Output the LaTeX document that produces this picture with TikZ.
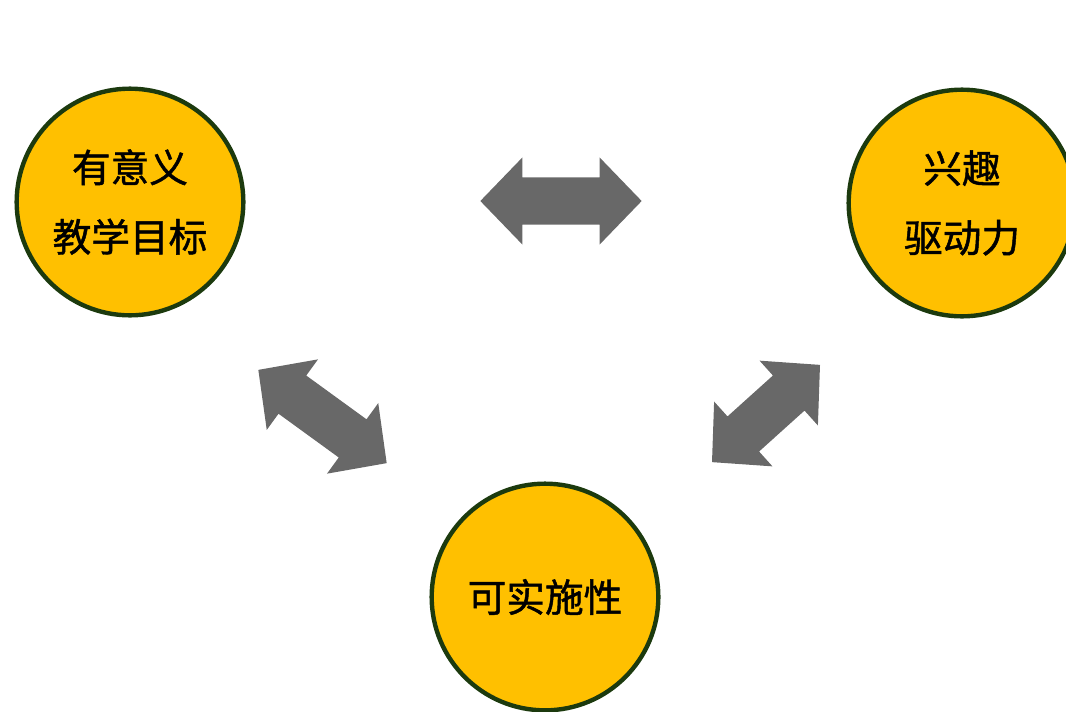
\documentclass[tikz,border=0pt]{standalone}
\usepackage{fontspec}
\newfontfamily\cjk[FakeBold=1.2]{Noto Sans CJK SC}
\usetikzlibrary{shapes.arrows}
\definecolor{discfill}{RGB}{255,192,0}
\definecolor{discrim}{RGB}{28,58,14}
\definecolor{arrgray}{RGB}{104,104,104}

\begin{document}
\begin{tikzpicture}[%
    x=0.75pt,
    y=-0.75pt,
    disc/.style={
      circle,
      draw=discrim,
      line width=3.3pt,
      fill=discfill,
      minimum size=170pt,
      inner sep=0pt,
      align=center,
      font=\cjk\fontsize{29}{52}\selectfont
    },
    link/.style={
      double arrow,
      fill=arrgray,
      draw=none,
      double arrow head extend=15pt,
      double arrow tip angle=92,
      inner xsep=0pt,
      inner ysep=17.5pt,
      minimum width=64pt
    }
  ]
    \useasboundingbox (0,0) rectangle (1066,711);

    % the three circles
    \draw (130,202) node[disc] (goal) {有意义\\教学目标};
    \draw (962,203) node[disc] (drive) {兴趣\\驱动力};
    \draw (545,597) node[disc] (feasible) {可实施性};

    % double arrows between them
    \draw (561,201) node[link, minimum height=121pt] (arrTop) {};
    \draw (322.5,416.5) node[link, minimum height=119pt, rotate=-36] (arrLeft) {};
    \draw (766,413.5) node[link, minimum height=109pt, rotate=42] (arrRight) {};

  \end{tikzpicture}
\end{document}
